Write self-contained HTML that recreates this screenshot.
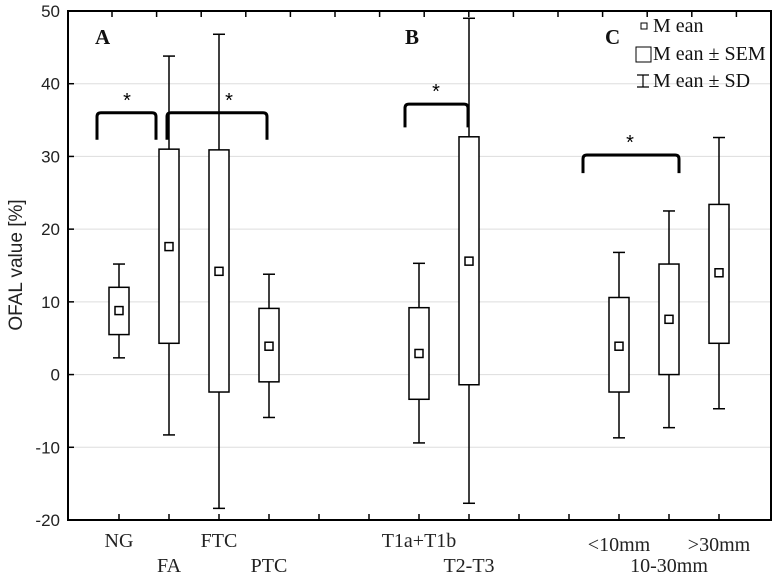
<!DOCTYPE html>
<html><head><meta charset="utf-8"><style>
body{margin:0;background:#fff}
text{font-family:"Liberation Serif",serif}
</style></head><body>
<svg id="chart" width="774" height="575" xmlns="http://www.w3.org/2000/svg"></svg>
<script>
const categories=["NG","FA","FTC","PTC","T1a+T1b","T2-T3","<10mm","10-30mm",">30mm"];
const slots=[0,1,2,3,6,7,10,11,12];
const means=[8.8,17.6,14.2,3.9,2.9,15.6,3.9,7.6,14.0];
const semLow=[5.5,4.3,-2.4,-1.0,-3.4,-1.4,-2.4,0.0,4.3];
const semHigh=[12.0,31.0,30.9,9.1,9.2,32.7,10.6,15.2,23.4];
const sdLow=[2.3,-8.3,-18.4,-5.9,-9.4,-17.7,-8.7,-7.3,-4.7];
const sdHigh=[15.2,43.8,46.8,13.8,15.3,49.0,16.8,22.5,32.6];
const yTicks=[-20,-10,0,10,20,30,40,50];
const svg=document.getElementById('chart');
const NS="http://www.w3.org/2000/svg";
const L=68,R=771,T=11,B=520;
const y=v=>T+(50-v)*(B-T)/70;
const x=s=>119+s*50;
function mk(tag,attrs,parent){const e=document.createElementNS(NS,tag);for(const k in attrs)e.setAttribute(k,attrs[k]);(parent||svg).appendChild(e);return e;}
yTicks.forEach(v=>{
 if(v>-20&&v<50){const g=mk('line',{x1:L,x2:R,y1:y(v),y2:y(v),stroke:'#ddd','stroke-width':1});
 
 }
 const t=mk('text',{x:L-8,y:y(v)+6,'text-anchor':'end','font-size':17,fill:'#222',style:'font-family:"Liberation Sans",sans-serif'});
 t.textContent=v;
 
 
 mk('line',{x1:L,x2:L+6,y1:y(v),y2:y(v),stroke:'#000','stroke-width':1.5});
});
const frame=mk('rect',{x:L,y:T,width:R-L,height:B-T,fill:'none',stroke:'#000','stroke-width':2});


for(let s=0;s<13;s++){mk('line',{x1:x(s),x2:x(s),y1:B,y2:B-6,stroke:'#000','stroke-width':1.5});}
for(let k=0;k<15;k++){const xx=112+k*44.6;if(xx<R-2)mk('line',{x1:xx,x2:xx,y1:T,y2:T+6,stroke:'#000','stroke-width':1.5});}
categories.forEach((c,i)=>{
 const cx=x(slots[i]);
 const g=mk('g',{});
 
 
 mk('line',{x1:cx,x2:cx,y1:y(sdHigh[i]),y2:y(sdLow[i]),stroke:'#000','stroke-width':1.5},g);
 mk('line',{x1:cx-6,x2:cx+6,y1:y(sdHigh[i]),y2:y(sdHigh[i]),stroke:'#000','stroke-width':1.5},g);
 mk('line',{x1:cx-6,x2:cx+6,y1:y(sdLow[i]),y2:y(sdLow[i]),stroke:'#000','stroke-width':1.5},g);
 mk('rect',{x:cx-10,y:y(semHigh[i]),width:20,height:y(semLow[i])-y(semHigh[i]),fill:'#fff',stroke:'#000','stroke-width':1.5},g);
 mk('rect',{x:cx-4,y:y(means[i])-4,width:8,height:8,fill:'#fff',stroke:'#000','stroke-width':1.5},g);
 const t=mk('text',{x:cx,y:(i%2===0?(i>=6?551:547):572),'text-anchor':'middle','font-size':20,fill:'#222'});
 t.textContent=c;
 
 
});
function bracket(x1,x2,v,drop,sx){
 const g=mk('g',{});
 
 
 const yy=y(v),yd=y(drop);
 mk('path',{d:`M${x1},${yd} L${x1},${yy+4} Q${x1},${yy} ${x1+4},${yy} L${x2-4},${yy} Q${x2},${yy} ${x2},${yy+4} L${x2},${yd}`,fill:'none',stroke:'#000','stroke-width':3},g);
 const t=mk('text',{x:sx,y:yy-6,'text-anchor':'middle','font-size':20,fill:'#000',style:'font-family:"Liberation Sans",sans-serif'},g);t.textContent='*';
}
bracket(97,156,36,32.3,127);
bracket(167,267,36,32.3,229);
bracket(405,468,37.2,34,436);
bracket(583,679,30.2,27.7,630);
[['A',95],['B',405],['C',605]].forEach(([l,px])=>{const t=mk('text',{x:px,y:44,'font-size':21,'font-weight':'bold',fill:'#111'});t.textContent=l;
 
 });
const lg=mk('g',{});


mk('rect',{x:641,y:23,width:6,height:6,fill:'#fff',stroke:'#000','stroke-width':1},lg);
mk('rect',{x:636,y:47,width:15,height:15,fill:'#fff',stroke:'#000','stroke-width':1},lg);
mk('path',{d:'M637,75 h12 M643,75 v12 M637,87 h12',stroke:'#000','stroke-width':1.2,fill:'none'},lg);
[['M ean',32],['M ean ± SEM',60],['M ean ± SD',87]].forEach(([s,yy])=>{const t=mk('text',{x:653,y:yy,'font-size':20,fill:'#111'},lg);t.textContent=s;});
const yt=mk('text',{x:22,y:265,'text-anchor':'middle','font-size':19,fill:'#222',transform:'rotate(-90 22 265)',style:'font-family:"Liberation Sans",sans-serif'});
yt.textContent='OFAL value [%]';


</script>
</body></html>
